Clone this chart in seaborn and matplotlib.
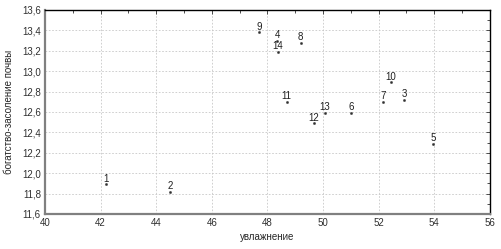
import pandas as pd
import matplotlib
matplotlib.use('Agg')
import matplotlib.pyplot as plt
import seaborn as sns
from matplotlib.ticker import MultipleLocator, FuncFormatter

# данные
labels = ['1', '2', '3', '4', '5', '6', '7', '8', '9', '10', '11', '12', '13', '14']
moisture = [42.2, 44.5, 52.92, 48.35, 53.95, 51.0, 52.17, 49.2, 47.7, 52.45, 48.69, 49.68, 50.07, 48.38]
salinity = [11.89, 11.82, 12.72, 13.30, 12.29, 12.59, 12.70, 13.28, 13.38, 12.89, 12.70, 12.49, 12.59, 13.19]

df = pd.DataFrame({'label': labels, 'x': moisture, 'y': salinity})

sns.set_style('white')
plt.rcParams['font.family'] = ['Liberation Sans', 'DejaVu Sans']

fig = plt.figure(figsize=(5.01, 2.49), dpi=100)
ax = fig.add_axes([0.0898, 0.1406, 0.888, 0.8194])

sns.scatterplot(data=df, x='x', y='y', ax=ax, color='#303030', s=3,
                edgecolor='#303030', linewidth=0.2, zorder=3)

for _, r in df.iterrows():
    ax.annotate(r['label'], (r['x'], r['y']), xytext=(0, 0.5),
                textcoords='offset points', ha='center', va='bottom',
                fontsize=7, color='#202020')

ax.set_xlim(40, 56)
ax.set_ylim(11.6, 13.6)
ax.xaxis.set_major_locator(MultipleLocator(2))
ax.xaxis.set_minor_locator(MultipleLocator(1))
ax.yaxis.set_major_locator(MultipleLocator(0.2))
ax.yaxis.set_minor_locator(MultipleLocator(0.1))
ax.xaxis.set_major_formatter(FuncFormatter(lambda v, p: f'{v:.0f}'))
ax.yaxis.set_major_formatter(FuncFormatter(lambda v, p: f'{v:.1f}'.replace('.', ',')))

ax.grid(True, which='major', color='#c8c8c8', linestyle=(0, (2, 2)), linewidth=0.6)
ax.tick_params(which='both', direction='in', top=True, right=True,
               labelsize=7, colors='#303030', pad=3)
ax.tick_params(which='major', length=3, width=0.6)
ax.tick_params(which='minor', length=2, width=0.6)
for side in ['top', 'right']:
    ax.spines[side].set_color('black')
    ax.spines[side].set_linewidth(1)
for side in ['left', 'bottom']:
    ax.spines[side].set_color('#808080')
    ax.spines[side].set_linewidth(1.6)

ax.set_xlabel('увлажнение', fontsize=7, labelpad=3)
ax.set_ylabel('богатство-засоление почвы', fontsize=7, labelpad=6)

plt.savefig('out.png', dpi=100)
plt.close()
